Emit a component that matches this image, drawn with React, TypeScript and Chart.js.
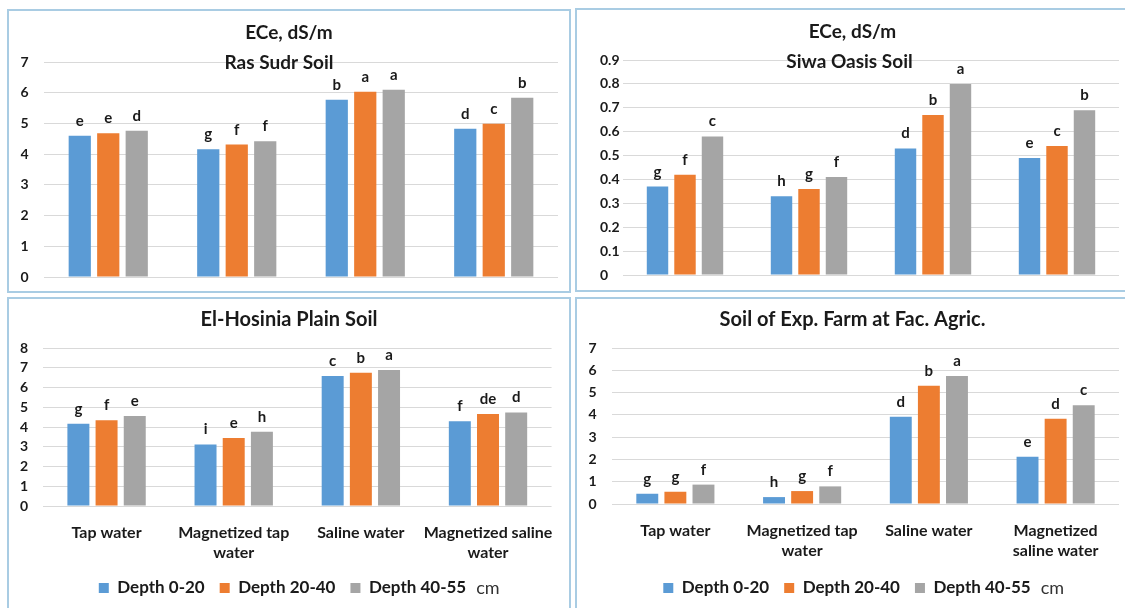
import React, { useEffect, useRef } from "react";
import { Chart, registerables } from "chart.js";

Chart.register(...registerables);

// ---------- data ----------
const SERIES_NAMES = ["Depth 0-20", "Depth 20-40", "Depth 40-55"];
const LEGEND_UNIT = "cm";
const SERIES_COLORS = ["#5B9BD5", "#ED7D31", "#A5A5A5"];

const MAIN_TITLE = "ECe, dS/m";
const TITLE_RAS_SUDR = "Ras Sudr Soil";
const TITLE_SIWA = "Siwa Oasis Soil";
const TITLE_HOSINIA = "El-Hosinia Plain Soil";
const TITLE_FARM = "Soil of Exp. Farm at Fac. Agric.";

const CATEGORIES = ["Tap water", "Magnetized tap water", "Saline water", "Magnetized saline water"];
const CATEGORY_LINES_HOSINIA = [["Tap water"], ["Magnetized tap", "water"], ["Saline water"], ["Magnetized saline", "water"]];
const CATEGORY_LINES_FARM = [["Tap water"], ["Magnetized tap", "water"], ["Saline water"], ["Magnetized", "saline water"]];

const RAS_SUDR_0_20 = [4.6, 4.16, 5.77, 4.83];
const RAS_SUDR_20_40 = [4.68, 4.31, 6.03, 4.99];
const RAS_SUDR_40_55 = [4.76, 4.42, 6.1, 5.84];
const RAS_SUDR_LETTERS_0_20 = ["e", "g", "b", "d"];
const RAS_SUDR_LETTERS_20_40 = ["e", "f", "a", "c"];
const RAS_SUDR_LETTERS_40_55 = ["d", "f", "a", "b"];

const SIWA_0_20 = [0.37, 0.33, 0.53, 0.49];
const SIWA_20_40 = [0.42, 0.36, 0.67, 0.54];
const SIWA_40_55 = [0.58, 0.41, 0.8, 0.69];
const SIWA_LETTERS_0_20 = ["g", "h", "d", "e"];
const SIWA_LETTERS_20_40 = ["f", "g", "b", "c"];
const SIWA_LETTERS_40_55 = ["c", "f", "a", "b"];

const HOSINIA_0_20 = [4.17, 3.12, 6.58, 4.29];
const HOSINIA_20_40 = [4.34, 3.44, 6.75, 4.66];
const HOSINIA_40_55 = [4.56, 3.76, 6.89, 4.74];
const HOSINIA_LETTERS_0_20 = ["g", "i", "c", "f"];
const HOSINIA_LETTERS_20_40 = ["f", "e", "b", "de"];
const HOSINIA_LETTERS_40_55 = ["e", "h", "a", "d"];

const FARM_0_20 = [0.46, 0.31, 3.92, 2.12];
const FARM_20_40 = [0.55, 0.58, 5.31, 3.83];
const FARM_40_55 = [0.87, 0.79, 5.74, 4.43];
const FARM_LETTERS_0_20 = ["g", "h", "d", "e"];
const FARM_LETTERS_20_40 = ["g", "g", "b", "d"];
const FARM_LETTERS_40_55 = ["f", "f", "a", "c"];

const Y_MAX_RAS_SUDR = 7;
const Y_STEP_RAS_SUDR = 1;
const Y_MAX_SIWA = 0.9;
const Y_STEP_SIWA = 0.1;
const Y_MAX_HOSINIA = 8;
const Y_STEP_HOSINIA = 1;
const Y_MAX_FARM = 7;
const Y_STEP_FARM = 1;

// ---------- styles ----------
const FONT = "Lato, 'Open Sans', 'DejaVu Sans', sans-serif";
const TEXT = "#1a1a1a";
const GRID = "#D9D9D9";
const BORDER = "#A9CCE3";

type PanelCfg = {
  left: number;
  top: number;
  width: number;
  height: number;
  title: string;
  titleY: number;
  titleSize: number;
  subtitle?: string;
  subtitleDx?: number;
  subtitleDy?: number;
  labels: (string | string[])[];
  showCategoryLabels: boolean;
  showLegend: boolean;
  series: number[][];
  letters: string[][];
  yMax: number;
  yStep: number;
  pad: { left: number; right: number; top: number; bottom: number };
  yWidth: number;
  yAlign: "near" | "far";
  yPadding: number;
  xHeight: number;
};

const decorPlugin = {
  id: "panelDecor",
  afterDatasetsDraw(chart: any, _args: any, opts: any) {
    const ctx = chart.ctx;
    ctx.save();
    ctx.fillStyle = TEXT;
    ctx.font = `bold 15px ${FONT}`;
    ctx.textAlign = "center";
    ctx.textBaseline = "alphabetic";
    chart.data.datasets.forEach((_ds: any, i: number) => {
      const meta = chart.getDatasetMeta(i);
      meta.data.forEach((bar: any, j: number) => {
        const t = opts.letters?.[i]?.[j];
        if (t) ctx.fillText(t, bar.x, bar.y - 10);
      });
    });
    ctx.restore();
  },
  afterDraw(chart: any, _args: any, opts: any) {
    const ctx = chart.ctx;
    ctx.save();
    ctx.fillStyle = TEXT;
    ctx.textAlign = "center";
    ctx.textBaseline = "middle";
    ctx.font = `bold ${opts.titleSize}px ${FONT}`;
    ctx.fillText(opts.title, chart.width / 2, opts.titleY);
    if (opts.subtitle) {
      ctx.fillText(
        opts.subtitle,
        chart.width / 2 + (opts.subtitleDx || 0),
        chart.chartArea.top + (opts.subtitleDy || 0)
      );
    }
    if (opts.unit && chart.legend && chart.legend.legendHitBoxes?.length) {
      const hb = chart.legend.legendHitBoxes[chart.legend.legendHitBoxes.length - 1];
      ctx.font = `18px ${FONT}`;
      ctx.fillStyle = "#333333";
      ctx.textAlign = "left";
      ctx.fillText(opts.unit, hb.left + hb.width + 10, hb.top + hb.height / 2);
    }
    ctx.restore();
  },
};

function Panel({ cfg }: { cfg: PanelCfg }) {
  const ref = useRef<HTMLCanvasElement | null>(null);
  useEffect(() => {
    if (!ref.current) return;
    const chart = new Chart(ref.current, {
      type: "bar",
      data: {
        labels: cfg.labels,
        datasets: cfg.series.map((values, i) => ({
          label: SERIES_NAMES[i],
          data: values,
          backgroundColor: SERIES_COLORS[i],
          borderWidth: 0,
          categoryPercentage: 0.665,
          barPercentage: 0.78,
        })),
      },
      options: {
        responsive: false,
        maintainAspectRatio: false,
        animation: false,
        events: [],
        layout: { padding: cfg.pad },
        scales: {
          x: {
            grid: { display: false, drawTicks: false },
            border: { display: false },
            ticks: {
              display: cfg.showCategoryLabels,
              color: TEXT,
              font: { family: FONT, size: 16, weight: "bold", lineHeight: 1.25 },
              padding: 17,
              maxRotation: 0,
              autoSkip: false,
            },
            afterFit: (s: any) => {
              s.height = cfg.xHeight;
            },
          },
          y: {
            min: 0,
            max: cfg.yMax,
            grid: { color: GRID, lineWidth: 1, drawTicks: false },
            border: { display: false },
            ticks: {
              stepSize: cfg.yStep,
              autoSkip: false,
              color: TEXT,
              font: { family: FONT, size: 14, weight: "bold" },
              padding: cfg.yPadding,
              crossAlign: cfg.yAlign,
              callback: (v: any) => String(Math.round(Number(v) * 10) / 10),
            },
            afterFit: (s: any) => {
              s.width = cfg.yWidth;
            },
          },
        },
        plugins: {
          legend: {
            display: cfg.showLegend,
            position: "bottom",
            labels: {
              boxWidth: 10,
              boxHeight: 10,
              padding: 15,
              color: TEXT,
              font: { family: FONT, size: 17, weight: "bold" },
            },
          },
          title: { display: false },
          tooltip: { enabled: false },
          panelDecor: {
            title: cfg.title,
            titleY: cfg.titleY,
            titleSize: cfg.titleSize,
            subtitle: cfg.subtitle,
            subtitleDx: cfg.subtitleDx,
            subtitleDy: cfg.subtitleDy,
            letters: cfg.letters,
            unit: cfg.showLegend ? LEGEND_UNIT : undefined,
          },
        } as any,
      },
      plugins: [decorPlugin],
    } as any);
    return () => chart.destroy();
  }, [cfg]);

  return (
    <>
      <canvas
        ref={ref}
        width={cfg.width}
        height={cfg.height}
        style={{ position: "absolute", left: cfg.left, top: cfg.top, width: cfg.width, height: cfg.height }}
      />
      <div
        style={{
          position: "absolute",
          left: cfg.left,
          top: cfg.top,
          width: cfg.width,
          height: cfg.height,
          border: `2px solid ${BORDER}`,
          boxSizing: "border-box",
          pointerEvents: "none",
        }}
      />
    </>
  );
}

const PANELS: PanelCfg[] = [
  {
    left: 7, top: 9, width: 564, height: 284,
    title: MAIN_TITLE, titleY: 24, titleSize: 19, subtitle: TITLE_RAS_SUDR, subtitleDx: -10, subtitleDy: 1,
    labels: CATEGORIES, showCategoryLabels: false, showLegend: false,
    series: [RAS_SUDR_0_20, RAS_SUDR_20_40, RAS_SUDR_40_55],
    letters: [RAS_SUDR_LETTERS_0_20, RAS_SUDR_LETTERS_20_40, RAS_SUDR_LETTERS_40_55],
    yMax: Y_MAX_RAS_SUDR, yStep: Y_STEP_RAS_SUDR,
    pad: { left: 13.5, right: 13, top: 53, bottom: 0 },
    yWidth: 23.5, yAlign: "far", yPadding: 0, xHeight: 16,
  },
  {
    left: 575, top: 8, width: 555, height: 284,
    title: MAIN_TITLE, titleY: 24, titleSize: 19, subtitle: TITLE_SIWA, subtitleDx: -3, subtitleDy: 2,
    labels: CATEGORIES, showCategoryLabels: false, showLegend: false,
    series: [SIWA_0_20, SIWA_20_40, SIWA_40_55],
    letters: [SIWA_LETTERS_0_20, SIWA_LETTERS_20_40, SIWA_LETTERS_40_55],
    yMax: Y_MAX_SIWA, yStep: Y_STEP_SIWA,
    pad: { left: 25, right: 11, top: 52, bottom: 0 },
    yWidth: 23, yAlign: "far", yPadding: 0, xHeight: 17,
  },
  {
    left: 7, top: 297, width: 564, height: 315,
    title: TITLE_HOSINIA, titleY: 23, titleSize: 20,
    labels: CATEGORY_LINES_HOSINIA, showCategoryLabels: true, showLegend: true,
    series: [HOSINIA_0_20, HOSINIA_20_40, HOSINIA_40_55],
    letters: [HOSINIA_LETTERS_0_20, HOSINIA_LETTERS_20_40, HOSINIA_LETTERS_40_55],
    yMax: Y_MAX_HOSINIA, yStep: Y_STEP_HOSINIA,
    pad: { left: 0, right: 13, top: 51, bottom: 5.5 },
    yWidth: 36, yAlign: "near", yPadding: 15, xHeight: 58.5,
  },
  {
    left: 575, top: 297, width: 555, height: 315,
    title: TITLE_FARM, titleY: 23, titleSize: 20,
    labels: CATEGORY_LINES_FARM, showCategoryLabels: true, showLegend: true,
    series: [FARM_0_20, FARM_20_40, FARM_40_55],
    letters: [FARM_LETTERS_0_20, FARM_LETTERS_20_40, FARM_LETTERS_40_55],
    yMax: Y_MAX_FARM, yStep: Y_STEP_FARM,
    pad: { left: 0, right: 11, top: 51, bottom: 5.5 },
    yWidth: 37, yAlign: "near", yPadding: 15.5, xHeight: 60.5,
  },
];

export default function App() {
  return (
    <div
      style={{
        position: "fixed",
        left: 0,
        top: 0,
        width: 1125,
        height: 608,
        overflow: "hidden",
        background: "#ffffff",
      }}
    >
      {PANELS.map((p, i) => (
        <Panel key={i} cfg={p} />
      ))}
    </div>
  );
}
